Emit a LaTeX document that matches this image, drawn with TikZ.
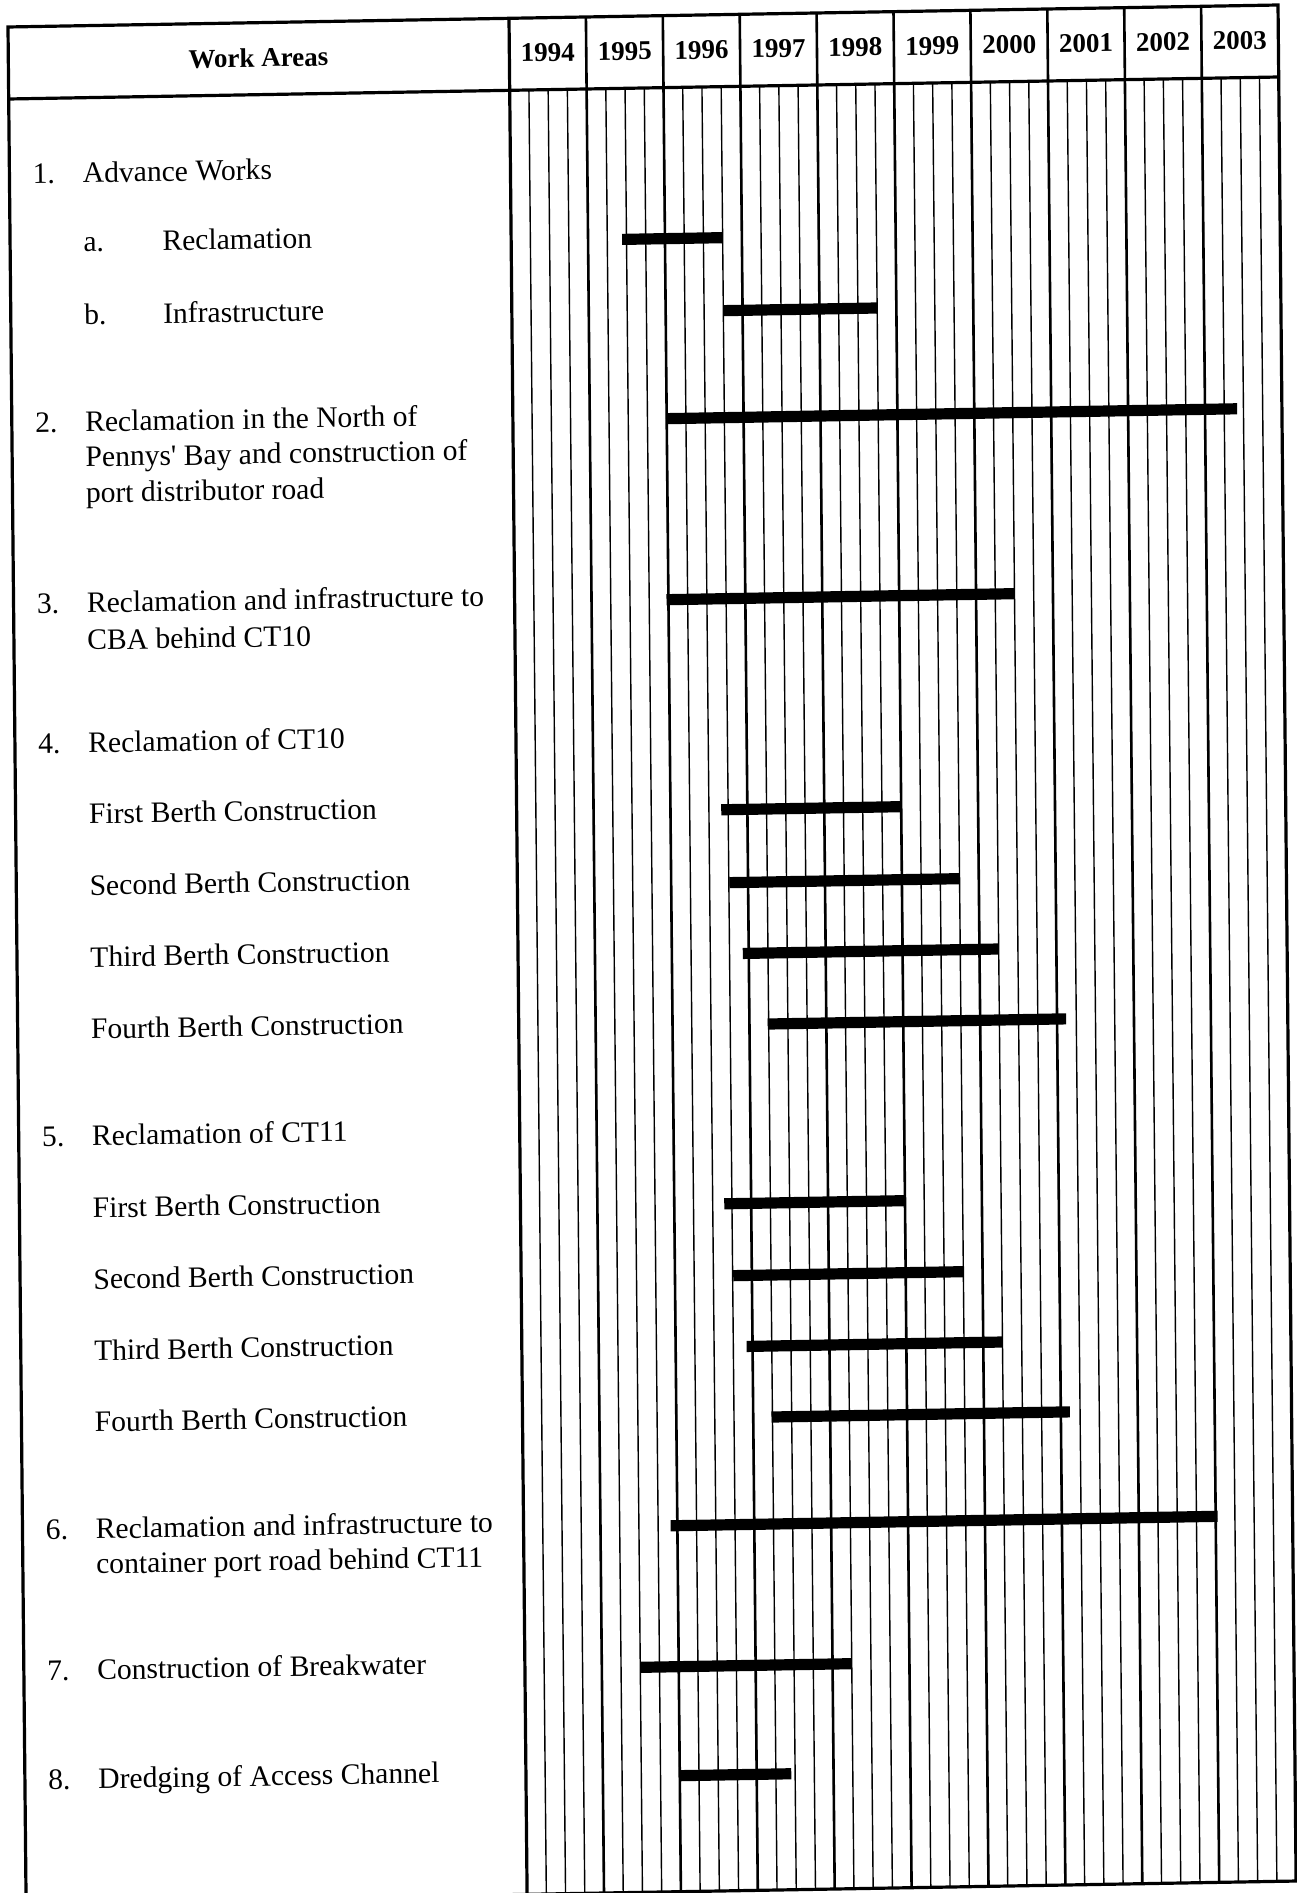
\documentclass[tikz,border=0pt]{standalone}
\usepackage{fontspec}
\setmainfont{Liberation Serif}
\tikzset{
  boxline/.style={line width=1.6pt},
  yline/.style={line width=1.3pt},
  qline/.style={line width=0.7pt},
  ganttbar/.style={line width=5.6pt},
  hdr/.style={font=\bfseries\fontsize{13.5}{16}\selectfont, inner sep=0pt},
  lbl/.style={anchor=base west, inner sep=0pt, font=\fontsize{14.8}{18}\selectfont},
}
\begin{document}
\begin{tikzpicture}[x=0.5pt,y=-0.5pt]
    \useasboundingbox (0,0) rectangle (1296,1893);
    \begin{scope}[cm={1,0.01732,-0.00965,1,(4pt,-13.5pt)}, transform shape]

    \foreach \k in {1,...,39}
        \draw[qline] ({501+19.225*\k},72) -- ({501+19.225*\k},1876);
    \foreach \k in {1,...,9}
        \draw[yline] ({501+76.9*\k},0) -- ({501+76.9*\k},1876);
    \draw[boxline] (501,0) -- (501,1876);
    \draw[boxline] (0,72) -- (1270,72);
    \draw[boxline] (0,0) rectangle (1270,1876);

    \node[hdr] (wa) at (250,35) {Work Areas};
    \foreach \y [count=\i from 0] in {1994,...,2003}
        \node[hdr] (y\y) at ({539.45+76.9*\i},35) {\y};

    \node[lbl] (n1) at (23,157) {1.};
    \node[lbl] (t1) at (73,157) {Advance Works};
    \node[lbl] (n1a) at (73,226) {a.};
    \node[lbl] (t1a) at (152,226) {Reclamation};
    \node[lbl] (n1b) at (73,299) {b.};
    \node[lbl] (t1b) at (152,299) {Infrastructure};

    \node[lbl] (n2) at (23,406) {2.};
    \node[lbl] (t2) at (73,406) {Reclamation in the North of};
    \node[lbl] (t2b) at (73,441) {Pennys\textquotesingle\ Bay and construction of};
    \node[lbl] (t2c) at (73,477) {port distributor road};

    \node[lbl] (n3) at (23,587) {3.};
    \node[lbl] (t3) at (73,587) {Reclamation and infrastructure to};
    \node[lbl] (t3b) at (73,624) {CBA behind CT10};

    \node[lbl] (n4) at (23,727) {4.};
    \node[lbl] (t4) at (73,727) {Reclamation of CT10};
    \foreach \b [count=\i from 0] in {First,Second,Third,Fourth}
        \node[lbl] (ct10b\i) at (73,{798+71.7*\i}) {\b\ Berth Construction};

    \node[lbl] (n5) at (23,1120) {5.};
    \node[lbl] (t5) at (73,1120) {Reclamation of CT11};
    \foreach \b [count=\i from 0] in {First,Second,Third,Fourth}
        \node[lbl] (ct11b\i) at (73,{1192+71.3*\i}) {\b\ Berth Construction};

    \node[lbl] (n6) at (23,1513) {6.};
    \node[lbl] (t6) at (73,1513) {Reclamation and infrastructure to};
    \node[lbl] (t6b) at (73,1548) {container port road behind CT11};

    \node[lbl] (n7) at (23,1654) {7.};
    \node[lbl] (t7) at (73,1654) {Construction of Breakwater};

    \node[lbl] (n8) at (23,1763) {8.};
    \node[lbl] (t8) at (73,1763) {Dredging of Access Channel};

    \foreach \s/\e/\v in {5.77/11/223, 11/19/296, 8/37.67/403, 7.9/26/584,
            10.64/20/795, 11.03/23/868, 11.69/25/939, 12.95/28.47/1010,
            10.6/20/1189, 11.03/23/1261, 11.69/25/1332, 12.95/28.47/1403,
            7.65/36.1/1510, 6/17/1651, 8/13.8/1760}
        \draw[ganttbar] ({501+19.225*\s},\v) -- ({501+19.225*\e},\v);

    \end{scope}
\end{tikzpicture}
\end{document}
